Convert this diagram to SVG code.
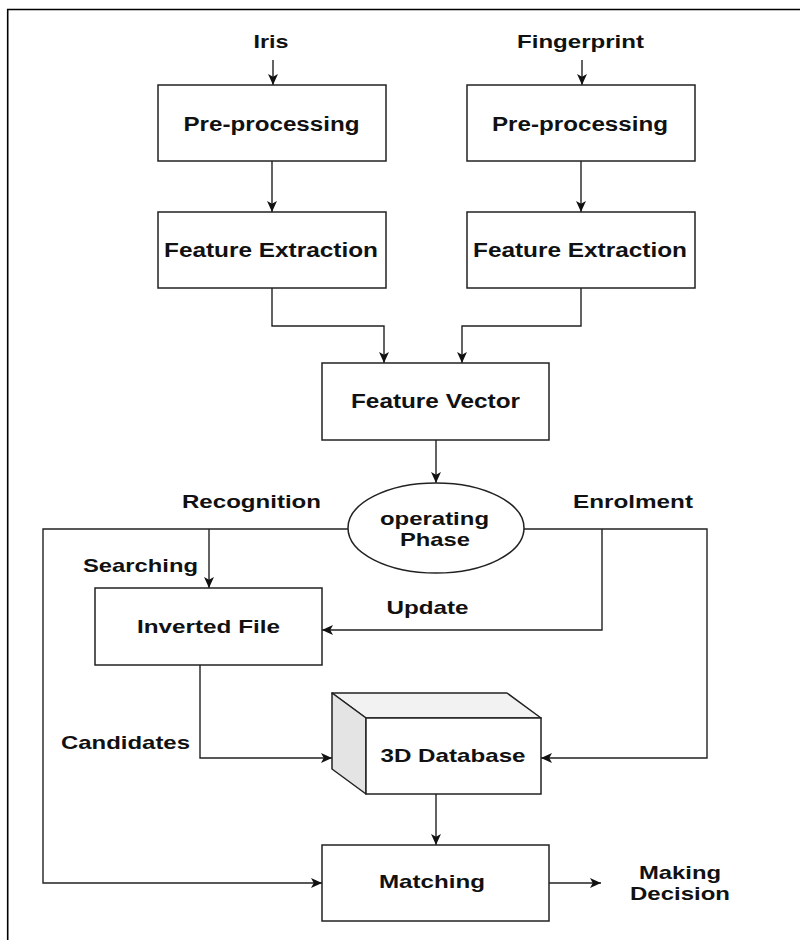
<svg xmlns="http://www.w3.org/2000/svg" width="800" height="940" viewBox="0 0 800 940">
<style>
.box{fill:#fff;stroke:#222;stroke-width:1.5}
.ln{fill:none;stroke:#222;stroke-width:1.4}
.t{font-family:"Liberation Sans",Arial,sans-serif;font-weight:bold;font-size:19px;fill:#111;text-anchor:middle}
.tb{font-size:20px}
</style>
<defs>
<marker id="arr" viewBox="0 0 10 10" markerWidth="11" markerHeight="11" refX="10" refY="5" orient="auto" markerUnits="userSpaceOnUse">
<path d="M0,0.5 L10,5 L0,9.5 L2.5,5 Z" fill="#111"/>
</marker>
</defs>
<rect width="800" height="940" fill="#fff"/>
<g id="frame">
<path d="M7.7,940 V9.5 H800" fill="none" stroke="#000" stroke-width="1.6"/>
</g>
<g id="connectors">
<path class="ln" d="M273,60 V85" marker-end="url(#arr)"/>
<path class="ln" d="M582,60 V85" marker-end="url(#arr)"/>
<path class="ln" d="M272,161 V212" marker-end="url(#arr)"/>
<path class="ln" d="M581,161 V212" marker-end="url(#arr)"/>
<path class="ln" d="M272,288 V326 H384 V363" marker-end="url(#arr)"/>
<path class="ln" d="M581,288 V326 H462 V363" marker-end="url(#arr)"/>
<path class="ln" d="M436,440 V483" marker-end="url(#arr)"/>
<path class="ln" d="M348,529 H43 V883 H322" marker-end="url(#arr)"/>
<path class="ln" d="M209,529 V588" marker-end="url(#arr)"/>
<path class="ln" d="M524,529 H707 V758 H541" marker-end="url(#arr)"/>
<path class="ln" d="M602,529 V630 H322" marker-end="url(#arr)"/>
<path class="ln" d="M200,665 V758 H332" marker-end="url(#arr)"/>
<path class="ln" d="M436,794 V845" marker-end="url(#arr)"/>
<path class="ln" d="M549,883 H601" marker-end="url(#arr)"/>
</g>
<g id="iris-label"><text class="t" x="271" y="48" textLength="35" lengthAdjust="spacingAndGlyphs">Iris</text></g>
<g id="fingerprint-label"><text class="t" x="580.5" y="48" textLength="127" lengthAdjust="spacingAndGlyphs">Fingerprint</text></g>
<g id="preproc-iris">
<rect class="box" x="158" y="85" width="228" height="76"/>
<text class="t tb" x="271.5" y="131" textLength="176" lengthAdjust="spacingAndGlyphs">Pre-processing</text>
</g>
<g id="preproc-finger">
<rect class="box" x="467" y="85" width="228" height="76"/>
<text class="t tb" x="580" y="131" textLength="176" lengthAdjust="spacingAndGlyphs">Pre-processing</text>
</g>
<g id="featext-iris">
<rect class="box" x="158" y="212" width="228" height="76"/>
<text class="t tb" x="271" y="257" textLength="214" lengthAdjust="spacingAndGlyphs">Feature Extraction</text>
</g>
<g id="featext-finger">
<rect class="box" x="467" y="212" width="228" height="76"/>
<text class="t tb" x="580" y="257" textLength="214" lengthAdjust="spacingAndGlyphs">Feature Extraction</text>
</g>
<g id="feature-vector">
<rect class="box" x="322" y="363" width="227" height="77"/>
<text class="t tb" x="435.5" y="408" textLength="169" lengthAdjust="spacingAndGlyphs">Feature Vector</text>
</g>
<g id="operating-phase">
<ellipse class="box" cx="436" cy="528" rx="88" ry="45"/>
<text class="t" x="434.5" y="525" textLength="109" lengthAdjust="spacingAndGlyphs">operating</text>
<text class="t" x="435" y="546" textLength="70" lengthAdjust="spacingAndGlyphs">Phase</text>
</g>
<g id="labels">
<text class="t" x="251.5" y="508" textLength="139" lengthAdjust="spacingAndGlyphs">Recognition</text>
<text class="t" x="633" y="508" textLength="120" lengthAdjust="spacingAndGlyphs">Enrolment</text>
<text class="t" x="140.5" y="572" textLength="115" lengthAdjust="spacingAndGlyphs">Searching</text>
<text class="t" x="427.5" y="614" textLength="82" lengthAdjust="spacingAndGlyphs">Update</text>
<text class="t" x="125.5" y="749" textLength="129" lengthAdjust="spacingAndGlyphs">Candidates</text>
</g>
<g id="inverted-file">
<rect class="box" x="95" y="588" width="227" height="77"/>
<text class="t" x="208.5" y="633" textLength="143" lengthAdjust="spacingAndGlyphs">Inverted File</text>
</g>
<g id="database-3d">
<polygon points="332,693 507,693 541,718 366,718" fill="#f2f2f2" stroke="#222" stroke-width="1.5" stroke-linejoin="round"/>
<polygon points="332,693 366,718 366,794 332,769" fill="#e4e4e4" stroke="#222" stroke-width="1.5" stroke-linejoin="round"/>
<rect class="box" x="366" y="718" width="175" height="76"/>
<text class="t" x="453" y="762" textLength="145" lengthAdjust="spacingAndGlyphs">3D Database</text>
</g>
<g id="matching">
<rect class="box" x="322" y="845" width="227" height="76"/>
<text class="t" x="432" y="888" textLength="106" lengthAdjust="spacingAndGlyphs">Matching</text>
</g>
<g id="making-decision">
<text class="t" x="680" y="879" textLength="82" lengthAdjust="spacingAndGlyphs">Making</text>
<text class="t" x="680" y="900" textLength="100" lengthAdjust="spacingAndGlyphs">Decision</text>
</g>
</svg>
